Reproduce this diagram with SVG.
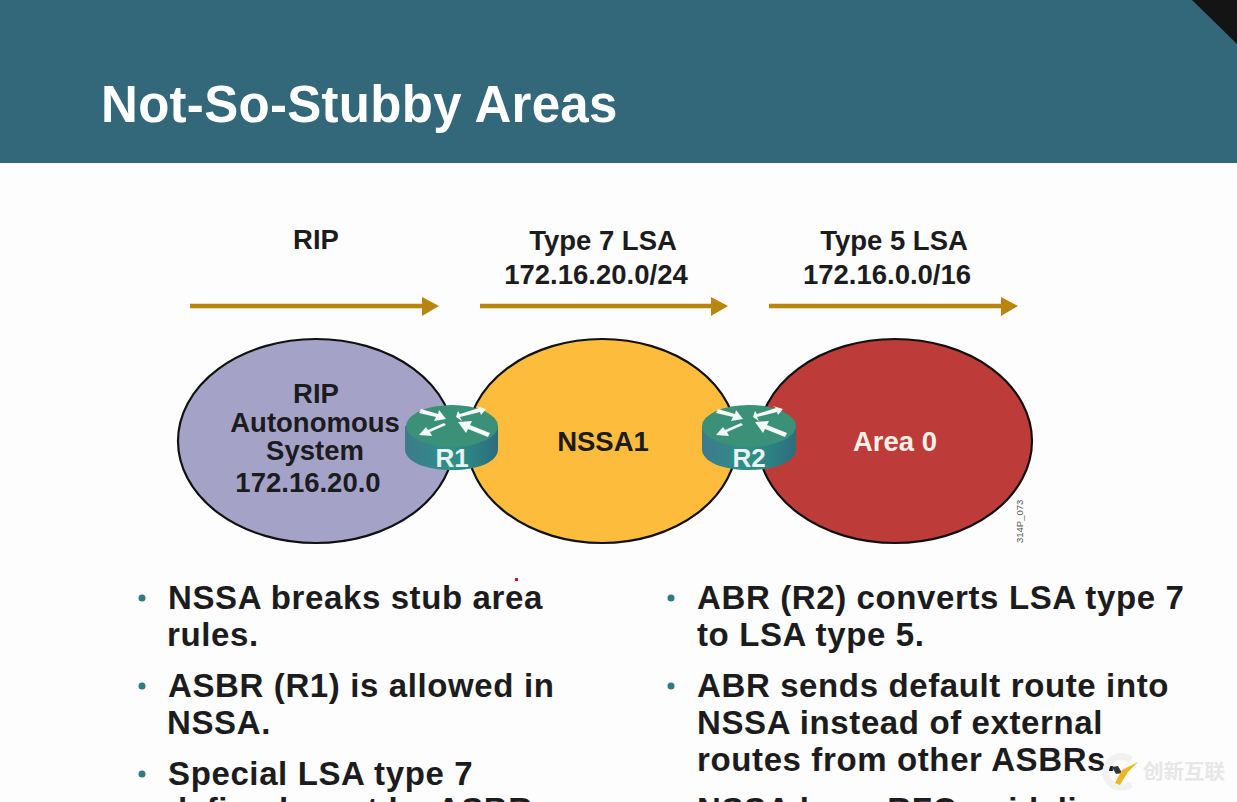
<svg xmlns="http://www.w3.org/2000/svg" width="1237" height="802" viewBox="0 0 1237 802">
<style>
text{font-family:"Liberation Sans",Arial,sans-serif;font-weight:700;fill:#1c1c1e}
.lbl{font-size:27.5px;text-anchor:middle}
.b{font-size:33px;letter-spacing:.62px}
.area{stroke:#111;stroke-width:2.2}
.flow{fill:none;stroke:#b8860f;stroke-width:4.5}
.head{fill:#b8860f}
.dot{fill:#2f7a84}
.rh{fill:#f4f8f6}
</style>
<defs>
<linearGradient id="body" x1="0" x2="1" y1="0" y2="0"><stop offset="0" stop-color="#3d7a8c"/><stop offset=".5" stop-color="#2d9188"/><stop offset="1" stop-color="#2d6d7c"/></linearGradient>
<g id="router-arrows">
<polygon class="rh" points="-31,-17 -14,-12 -13,-16 -6,-7 -18,-5 -16,-9 -33,-13"/>
<polygon class="rh" points="28,-14 8,-9 10,-5 4,-9 6,-15 8,-12 27,-18 24,-20 34,-17 29,-11"/>
<polygon class="rh" points="-6,-1 -22,6 -20,10 -33,9 -26,1 -24,4 -8,-3"/>
<polygon class="rh" points="36,11 16,3 14,7 6,-4 20,-5 18,-1 38,7"/>
</g>
</defs>
<rect width="1237" height="802" fill="#fcfdfc"/>
<rect width="1237" height="163" fill="#33687a"/>
<polygon points="1192,0 1237,0 1237,44" fill="#141414"/>
<text x="101" y="122" font-size="51" letter-spacing=".3" style="fill:#fff">Not-So-Stubby Areas</text>
<g id="connectors">
<path class="flow" d="M190 306H424"/><polygon class="head" points="422,297 439,306 422,316"/>
<path class="flow" d="M480 306H713"/><polygon class="head" points="711,297 728,306 711,316"/>
<path class="flow" d="M769 306H1003"/><polygon class="head" points="1001,297 1018,306 1001,316"/>
</g>
<g id="label-rip"><text class="lbl" x="316" y="249">RIP</text></g>
<g id="label-type7"><text class="lbl" x="603" y="250">Type 7 LSA</text><text class="lbl" x="596" y="284">172.16.20.0/24</text></g>
<g id="label-type5"><text class="lbl" x="894" y="250">Type 5 LSA</text><text class="lbl" x="887" y="284">172.16.0.0/16</text></g>
<g id="area-rip"><ellipse class="area" cx="316" cy="441" rx="138" ry="102" fill="#a5a2c8"/>
<text class="lbl" x="316" y="403">RIP</text><text class="lbl" x="315" y="432">Autonomous</text><text class="lbl" x="315" y="460">System</text><text class="lbl" x="308" y="492">172.16.20.0</text></g>
<g id="area-nssa1"><ellipse class="area" cx="602" cy="441" rx="135" ry="102" fill="#fdbc3c"/>
<text class="lbl" x="603" y="451">NSSA1</text></g>
<g id="area-0"><ellipse class="area" cx="895" cy="441" rx="137" ry="102" fill="#bd3b38"/>
<text class="lbl" x="895" y="451" style="fill:#f6efe6">Area 0</text></g>
<g id="router-r1"><path d="M405 426V449C405 462 426 470 452 470S498 462 498 449V426Z" fill="url(#body)"/>
<ellipse cx="452" cy="426" rx="46" ry="21" fill="#3a9178"/>
<use href="#router-arrows" x="452" y="426"/>
<text x="452" y="467" font-size="26" text-anchor="middle" style="fill:#e8f2ee">R1</text></g>
<g id="router-r2"><path d="M702 426V449C702 462 723 470 749 470S796 462 796 449V426Z" fill="url(#body)"/>
<ellipse cx="749" cy="426" rx="47" ry="21" fill="#3a9178"/>
<use href="#router-arrows" x="749" y="426"/>
<text x="749" y="467" font-size="26" text-anchor="middle" style="fill:#e8f2ee">R2</text></g>
<text transform="translate(1023,543) rotate(-90)" font-size="9.5" style="font-weight:400;fill:#555">314P_073</text>
<rect x="515" y="578" width="3" height="3" fill="#e01010"/>
<g id="bullets-left">
<circle class="dot" cx="142" cy="598" r="3.5"/><circle class="dot" cx="142" cy="686" r="3.5"/><circle class="dot" cx="142" cy="774" r="3.5"/>
<text class="b" x="168" y="609">NSSA breaks stub area</text>
<text class="b" x="167" y="646">rules.</text>
<text class="b" x="168" y="697">ASBR (R1) is allowed in</text>
<text class="b" x="167" y="734">NSSA.</text>
<text class="b" x="168" y="785">Special LSA type 7</text>
<text class="b" x="167" y="821">defined, sent by ASBR</text>
</g>
<g id="bullets-right">
<circle class="dot" cx="671" cy="598" r="3.5"/><circle class="dot" cx="671" cy="686" r="3.5"/>
<text class="b" x="697" y="609">ABR (R2) converts LSA type 7</text>
<text class="b" x="697" y="646">to LSA type 5.</text>
<text class="b" x="697" y="697">ABR sends default route into</text>
<text class="b" x="697" y="734">NSSA instead of external</text>
<text class="b" x="697" y="771">routes from other ASBRs.</text>
<text class="b" x="697" y="821">NSSA have RFC guideline</text>
</g>
<g id="watermark">
<path d="M1131 760A15.500 15.500 0 1 0 1131 784" fill="none" stroke="#f0f1f0" stroke-width="6.500"/>
<polygon points="1112,767 1118,766 1122,773 1116,774" fill="#33333a"/>
<path d="M1115 783L1122 770L1138 762L1128 772L1120 785Z" fill="#f0b429"/>
<text x="1143" y="779" font-size="20.500" style="fill:#e6e7e6;font-family:'Noto Sans CJK SC',sans-serif">创新互联</text>
</g>
</svg>
